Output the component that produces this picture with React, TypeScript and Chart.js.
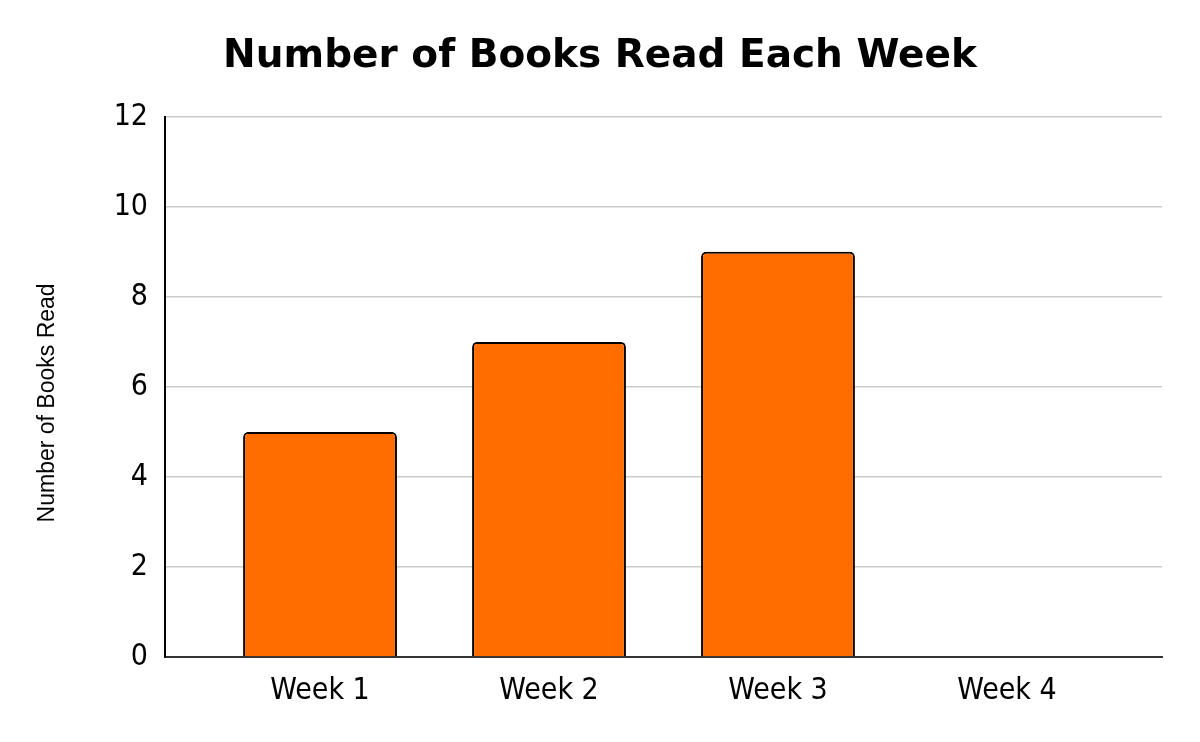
import React, { useEffect, useRef } from "react";
import { Chart, registerables } from "chart.js";

Chart.register(...registerables);

const weeks = ["Week 1", "Week 2", "Week 3", "Week 4"];
const booksRead = [5, 7, 9, 0];
const yTicks = [0, 2, 4, 6, 8, 10, 12];

const TITLE = "Number of Books Read Each Week";
const Y_TITLE = "Number of Books Read";
const TICK_FONT = "'DejaVu Sans Condensed', 'DejaVu Sans', sans-serif";

export default function App() {
  const ref = useRef<HTMLCanvasElement | null>(null);

  useEffect(() => {
    if (!ref.current) return;
    const chart = new Chart(ref.current, {
      type: "bar",
      data: {
        datasets: [
          {
            label: Y_TITLE,
            data: weeks.map((_, i) => ({ x: i, y: booksRead[i] })),
            backgroundColor: "#ff6d00",
            borderColor: "#000000",
            borderWidth: 2,
            borderRadius: 5,
            borderSkipped: "bottom",
            categoryPercentage: 1,
            barPercentage: 0.672,
          },
        ],
      },
      options: {
        animation: false,
        responsive: true,
        maintainAspectRatio: false,
        layout: { padding: { left: 38, right: 38, top: 0, bottom: 0 } },
        plugins: {
          legend: { display: false },
          tooltip: { enabled: false },
          title: {
            display: true,
            text: TITLE,
            color: "#000000",
            font: { family: "'DejaVu Sans', sans-serif", size: 39, weight: "bold" },
            padding: { top: 33, bottom: 37 },
          },
        },
        scales: {
          x: {
            type: "linear",
            offset: false,
            min: -0.677,
            max: 3.677,
            grid: { display: false },
            border: { display: true, color: "#333333", width: 2 },
            afterBuildTicks: (scale: any) => {
              scale.ticks = weeks.map((_, i) => ({ value: i }));
            },
            afterFit: (scale: any) => {
              scale.height = 85;
            },
            ticks: {
              color: "#000000",
              padding: 8,
              maxRotation: 0,
              autoSkip: false,
              font: { family: TICK_FONT, size: 30 },
              callback: (v: any) => weeks[Math.round(Number(v))] ?? "",
            },
          },
          y: {
            min: 0,
            max: 12,
            afterBuildTicks: (scale: any) => {
              scale.ticks = yTicks.map((v) => ({ value: v }));
            },
            afterFit: (scale: any) => {
              scale.width = 127;
            },
            grid: { color: "#cccccc", lineWidth: 1.5, drawTicks: false },
            border: { display: true, color: "#000000", width: 2 },
            ticks: {
              color: "#000000",
              padding: 17,
              font: { family: TICK_FONT, size: 30 },
            },
            title: {
              display: true,
              text: Y_TITLE + "     ",
              color: "#000000",
              font: { family: "'Liberation Sans', Arial, sans-serif", size: 23 },
              padding: { top: -4, bottom: 0 },
            },
          },
        },
      },
    });
    return () => chart.destroy();
  }, []);

  return (
    <div
      style={{
        position: "fixed",
        left: 0,
        top: 0,
        width: 1200,
        height: 742,
        background: "#ffffff",
      }}
    >
      <canvas ref={ref} />
    </div>
  );
}
